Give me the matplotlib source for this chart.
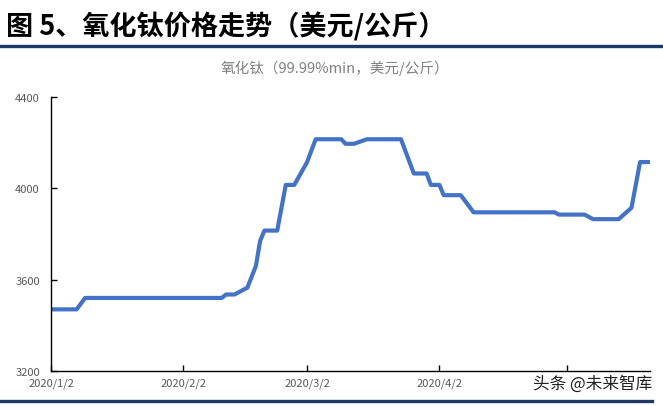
import matplotlib
matplotlib.use('Agg')
import matplotlib.pyplot as plt
import pandas as pd

plt.rcParams['font.family'] = ['Noto Sans CJK SC', 'DejaVu Sans']

# price of TiO2 (USD/kg)
dates = ['2020-01-02', '2020-01-08', '2020-01-10', '2020-02-11', '2020-02-12',
         '2020-02-14', '2020-02-17', '2020-02-19', '2020-02-20', '2020-02-21',
         '2020-02-24', '2020-02-26', '2020-02-28', '2020-03-02', '2020-03-04',
         '2020-03-10', '2020-03-11', '2020-03-13', '2020-03-16', '2020-03-24',
         '2020-03-27', '2020-03-30', '2020-03-31', '2020-04-02', '2020-04-03',
         '2020-04-07', '2020-04-10', '2020-04-29', '2020-04-30', '2020-05-06',
         '2020-05-07', '2020-05-08', '2020-05-14', '2020-05-17', '2020-05-19',
         '2020-05-21']
prices = [3470, 3470, 3520, 3520, 3535,
          3535, 3565, 3660, 3770, 3815,
          3815, 4015, 4015, 4115, 4215,
          4215, 4195, 4195, 4215, 4215,
          4065, 4065, 4015, 4015, 3970,
          3970, 3895, 3895, 3885, 3885,
          3875, 3865, 3865, 3915, 4115,
          4115]
tick_dates = ['2020-01-02', '2020-02-02', '2020-03-02', '2020-04-02', '2020-05-02']
tick_labels = ['2020/1/2', '2020/2/2', '2020/3/2', '2020/4/2', '']
yticks = [3200, 3600, 4000, 4400]

title = '图 5、氧化钛价格走势（美元/公斤）'
subtitle = '氧化钛（99.99%min，美元/公斤）'
watermark = '头条 @未来智库'

x = pd.to_datetime(dates)

fig = plt.figure(figsize=(6.63, 4.06), dpi=100)
ax = fig.add_axes([51/663, 34/406, 599/663, 274/406])

ax.plot(x, prices, color='#4472C4', linewidth=3.0, solid_joinstyle='round')

ax.set_ylim(3200, 4400)
ax.set_yticks(yticks)
ax.set_xlim(pd.Timestamp('2020-01-02'), pd.Timestamp('2020-05-21 08:00'))
ax.set_xticks(pd.to_datetime(tick_dates))
ax.set_xticklabels(tick_labels)

for s in ['top', 'right']:
    ax.spines[s].set_visible(False)
for s in ['left', 'bottom']:
    ax.spines[s].set_color('black')
    ax.spines[s].set_linewidth(1.0)

ax.tick_params(axis='both', direction='in', length=4, width=1, colors='black',
               labelcolor='#595959', labelsize=8)
ax.tick_params(axis='x', pad=5)
ax.tick_params(axis='y', pad=8)

# header
fig.text(6/663, 1 - 27/406, title, fontsize=19.5, fontweight='bold', color='black',
         ha='left', va='center')
fig.add_artist(plt.Line2D([0, 1], [1 - 47/406, 1 - 47/406], color='#1F3864', linewidth=2.4))
fig.text(335/663, 1 - 68/406, subtitle, fontsize=10.5, color='#808080', ha='center', va='center')

# footer
fig.add_artist(plt.Line2D([0, 652/663], [1 - 402/406, 1 - 402/406], color='#1F3864', linewidth=2.4))
fig.text(652/663, 1 - 384/406, watermark, fontsize=12, color='#222222', ha='right', va='center',
         bbox=dict(facecolor='white', edgecolor='none', pad=1))

fig.savefig('out.png', dpi=100)
